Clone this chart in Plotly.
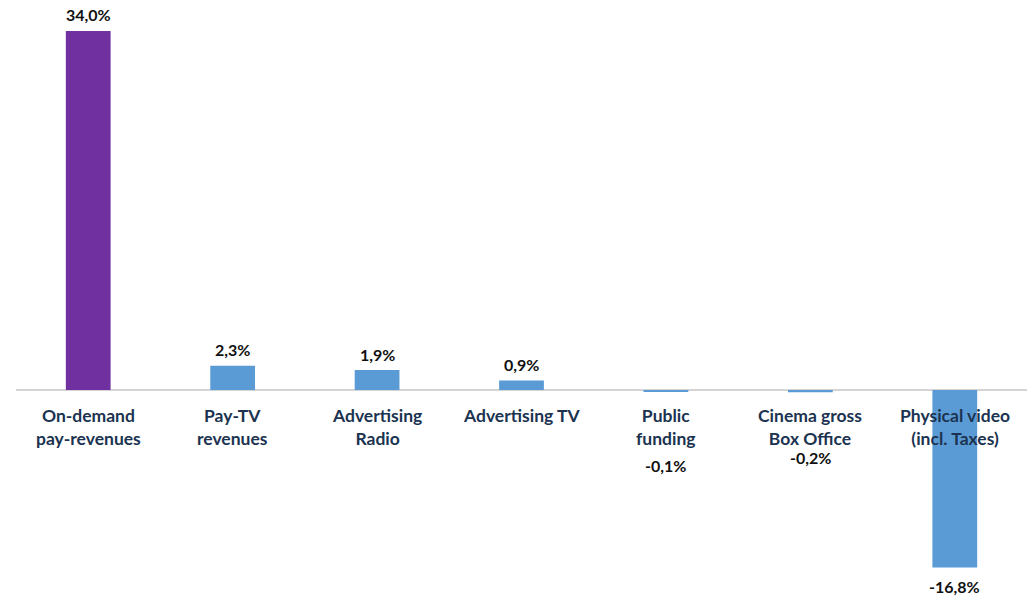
import plotly.graph_objects as go

# Year-on-year growth by revenue stream (%)
categories = [
    "On-demand<br>pay-revenues",
    "Pay-TV<br>revenues",
    "Advertising<br>Radio",
    "Advertising TV",
    "Public<br>funding",
    "Cinema gross<br>Box Office",
    "Physical video<br>(incl. Taxes)",
]
growth = [34.0, 2.3, 1.9, 0.9, -0.1, -0.2, -16.8]
bar_colors = ["#7030a0", "#5b9bd5", "#5b9bd5", "#5b9bd5", "#5b9bd5", "#5b9bd5", "#5b9bd5"]

# vertical offset (px) of each value label from its bar end
label_shift = [17, 16, 16, 16, -74, -65, -19]

FONT = "Lato"

x = list(range(len(categories)))

fig = go.Figure(
    go.Bar(
        x=x,
        y=growth,
        width=0.31,
        marker=dict(color=bar_colors, line=dict(width=0)),
        hoverinfo="skip",
    )
)

annotations = []
for i, (cat, val, dy) in enumerate(zip(categories, growth, label_shift)):
    # category name just under the zero line
    annotations.append(dict(
        x=i, y=0, xref="x", yref="y", text=cat, showarrow=False,
        xanchor="center", yanchor="top", yshift=-13,
        font=dict(family=FONT, size=17.5, color="#1b3350", weight="bold"),
    ))
    # value label
    annotations.append(dict(
        x=i, y=val, xref="x", yref="y",
        text=f"{val:.1f}%".replace(".", ","), showarrow=False,
        xanchor="center", yanchor="middle", yshift=dy,
        font=dict(family=FONT, size=16, color="#111111", weight="bold"),
    ))

fig.update_layout(
    width=1029, height=596,
    margin=dict(l=16, r=2, t=31, b=0),
    paper_bgcolor="white", plot_bgcolor="white",
    showlegend=False,
    annotations=annotations,
    xaxis=dict(range=[-0.5, 6.5], showticklabels=False, showgrid=False,
               zeroline=False, showline=False, ticks=""),
    yaxis=dict(range=[-19.5, 34], showticklabels=False, showgrid=False,
               zeroline=True, zerolinecolor="#d4d4d4", zerolinewidth=2,
               showline=False, ticks=""),
)

fig.write_html("out.html")
